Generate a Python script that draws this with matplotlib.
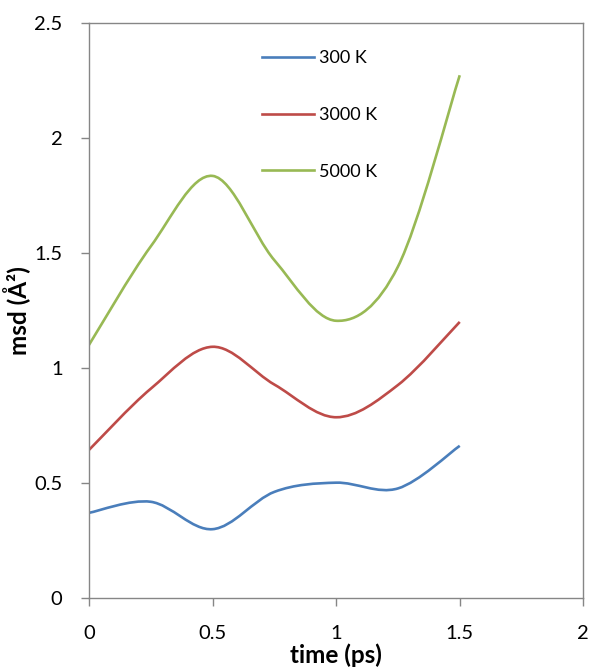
import numpy as np
import matplotlib
matplotlib.use('Agg')
import matplotlib.pyplot as plt
from matplotlib.path import Path
from matplotlib.patches import PathPatch
from matplotlib.lines import Line2D

# data
time = [0, 0.25, 0.5, 0.75, 1.0, 1.25, 1.5]
msd_300 = [0.371, 0.419, 0.300, 0.462, 0.502, 0.477, 0.662]
msd_3000 = [0.644, 0.910, 1.092, 0.928, 0.786, 0.926, 1.200]
msd_5000 = [1.100, 1.528, 1.834, 1.468, 1.205, 1.440, 2.271]
labels = ['300 K', '3000 K', '5000 K']
colors = ['#4A7EBB', '#BE4B48', '#98B954']

plt.rcParams['font.family'] = ['Lato', 'DejaVu Sans']


def smooth_path(x, y):
    # Excel-like smoothed line: cubic Bezier segments through each point
    p = np.column_stack([x, y]).astype(float)
    ext = np.vstack([p[0], p, p[-1]])
    verts = [p[0]]
    codes = [Path.MOVETO]
    for i in range(len(p) - 1):
        c1 = ext[i + 1] + (ext[i + 2] - ext[i]) / 6
        c2 = ext[i + 2] - (ext[i + 3] - ext[i + 1]) / 6
        verts += [c1, c2, p[i + 1]]
        codes += [Path.CURVE4] * 3
    return Path(verts, codes)


fig = plt.figure(figsize=(5.9, 6.72), dpi=100)
ax = fig.add_axes([0.1508, 0.1097, 0.8379, 0.8568])

handles = []
for ys, lab, c in zip([msd_300, msd_3000, msd_5000], labels, colors):
    patch = PathPatch(smooth_path(time, ys), facecolor='none', edgecolor=c,
                      lw=1.9, capstyle='butt')
    ax.add_patch(patch)
    handles.append(Line2D([], [], color=c, lw=1.9, label=lab))

ax.set_xlim(0, 2)
ax.set_ylim(0, 2.5)
ax.set_xticks([0, 0.5, 1, 1.5, 2])
ax.set_xticklabels(['0', '0.5', '1', '1.5', '2'])
ax.set_yticks([0, 0.5, 1, 1.5, 2, 2.5])
ax.set_yticklabels(['0', '0.5', '1', '1.5', '2', '2.5'])

for s in ax.spines.values():
    s.set_color('#868686')
    s.set_linewidth(1.0)
ax.tick_params(axis='both', direction='out', length=6, width=1.0,
               color='#868686', labelsize=14.5, labelcolor='black')
ax.tick_params(axis='y', pad=13)
ax.tick_params(axis='x', pad=13)

ax.set_xlabel('time (ps)', fontsize=17.5, fontweight='bold', labelpad=1)
ax.set_ylabel('msd (Å²)', fontsize=17.5, fontweight='bold', labelpad=2)

ax.legend(handles=handles, loc='upper left', bbox_to_anchor=(0.318, 0.98),
          frameon=False, fontsize=13, handlelength=2.85, handletextpad=0.3,
          labelspacing=2.25)

fig.savefig('out.png', dpi=100)
